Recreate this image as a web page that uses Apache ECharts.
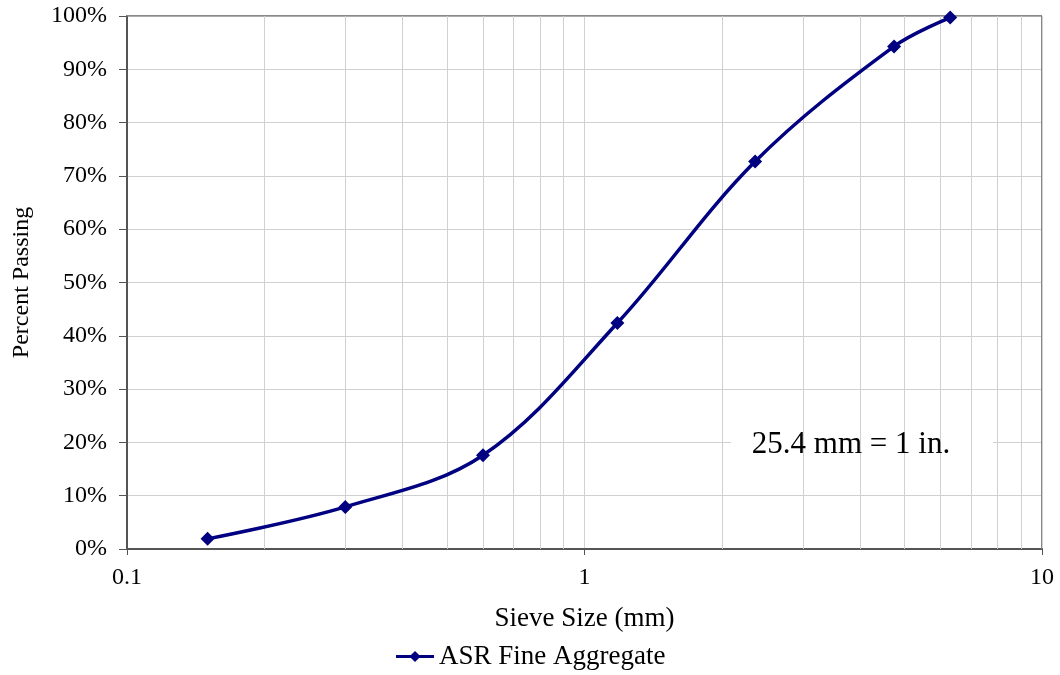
<!DOCTYPE html>
<html>
<head>
<meta charset="utf-8">
<script src="https://cdn.jsdelivr.net/npm/echarts@6/dist/echarts.min.js"></script>
<style>
    html, body { margin: 0; padding: 0; background: #fff; }
    #chart { width: 1060px; height: 675px; }
</style>
</head>
<body>
<div id="chart"></div>
<script>
const sieveSizes = [0.15, 0.3, 0.6, 1.18, 2.36, 4.75, 6.3];
const percentPassing = [1.9, 7.9, 17.6, 42.4, 72.7, 94.3, 99.7];
const minorGrid = [0.2, 0.3, 0.4, 0.5, 0.6, 0.7, 0.8, 0.9, 2, 3, 4, 5, 6, 7, 8, 9];
const seriesName = "ASR Fine Aggregate";

const chart = echarts.init(document.getElementById("chart"));
const font = "'Liberation Serif', 'Times New Roman', serif";

const option = {
    animation: false,
    textStyle: { fontFamily: font },
    grid: { left: 127, right: 18, top: 16, bottom: 126 },
    legend: {
        data: [seriesName],
        bottom: 0,
        left: "center",
        itemWidth: 38,
        itemHeight: 14,
        itemGap: 8,
        lineStyle: { width: 3 },
        textStyle: { fontFamily: font, fontSize: 27, color: "#000" }
    },
    xAxis: {
        type: "log",
        logBase: 10,
        min: 0.1,
        max: 10,
        name: "Sieve Size (mm)",
        nameLocation: "middle",
        nameGap: 56,
        nameTextStyle: { fontFamily: font, fontSize: 27, color: "#000" },
        axisLine: { lineStyle: { color: "#555", width: 2 } },
        axisTick: { show: true, length: 6, lineStyle: { color: "#555" } },
        axisLabel: {
            fontFamily: font, fontSize: 24, color: "#000", margin: 17,
            formatter: function (v) { return String(v); }
        },
        splitLine: { show: true, lineStyle: { color: "#d0d0d0", width: 1 } }
    },
    yAxis: {
        type: "value",
        min: 0,
        max: 100,
        interval: 10,
        name: "Percent Passing",
        nameLocation: "middle",
        nameGap: 93,
        nameTextStyle: { fontFamily: font, fontSize: 24, color: "#000" },
        axisLine: { show: true, lineStyle: { color: "#555", width: 2 } },
        axisTick: { show: true, length: 8, lineStyle: { color: "#555" } },
        axisLabel: { fontFamily: font, fontSize: 24, color: "#000", margin: 20, formatter: "{value}%" },
        splitLine: { show: true, lineStyle: { color: "#d0d0d0", width: 1 } }
    },
    graphic: [
        {
            type: "rect",
            shape: { x: 1041, y: 16, width: 1, height: 533 },
            style: { fill: "#888" },
            z: 5
        },
        {
            type: "rect",
            shape: { x: 127, y: 15, width: 915, height: 1.5 },
            style: { fill: "#888" },
            z: 5
        },
        {
            type: "rect",
            shape: { x: 731, y: 416, width: 262, height: 71 },
            style: { fill: "#fff" },
            z: 5
        },
        {
            type: "text",
            x: 851,
            y: 445,
            style: {
                text: "25.4 mm = 1 in.",
                fontFamily: font,
                fontSize: 31,
                fill: "#000",
                textAlign: "center",
                textVerticalAlign: "middle"
            },
            z: 6
        }
    ],
    series: [
        {
            name: "minor",
            type: "line",
            data: [],
            silent: true,
            z: 1,
            markLine: {
                silent: true,
                symbol: ["none", "none"],
                label: { show: false },
                lineStyle: { color: "#d0d0d0", width: 1, type: "solid" },
                data: minorGrid.map(function (v) { return { xAxis: v }; })
            }
        },
        {
            name: seriesName,
            type: "line",
            smooth: 0.35,
            z: 10,
            data: sieveSizes.map(function (s, i) { return [s, percentPassing[i]]; }),
            symbol: "diamond",
            symbolSize: 14,
            lineStyle: { color: "#000080", width: 3.5 },
            itemStyle: { color: "#000080" }
        }
    ]
};
chart.setOption(option);
</script>
</body>
</html>
